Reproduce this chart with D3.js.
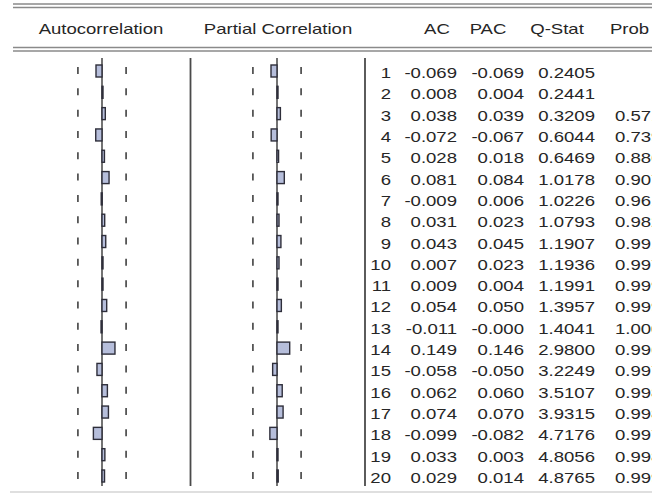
<!DOCTYPE html>
<html>
<head>
<meta charset="utf-8">
<script src="https://cdn.jsdelivr.net/npm/d3@7"></script>
<style>
  html, body { margin: 0; padding: 0; background: #fff; overflow: hidden; }
  text { font-family: "Liberation Sans", Arial, sans-serif; fill: #262626; }
</style>
</head>
<body>
<div id="chart"></div>
<script>
// 資料
var lags = d3.range(1, 21);
var acValues  = [-0.069, 0.008, 0.038, -0.072, 0.028, 0.081, -0.009, 0.031, 0.043, 0.007,
                 0.009, 0.054, -0.011, 0.149, -0.058, 0.062, 0.074, -0.099, 0.033, 0.029];
var pacValues = [-0.069, 0.004, 0.039, -0.067, 0.018, 0.084, 0.006, 0.023, 0.045, 0.023,
                 0.004, 0.050, -0.000, 0.146, -0.050, 0.060, 0.070, -0.082, 0.003, 0.014];
var acText  = ['-0.069','0.008','0.038','-0.072','0.028','0.081','-0.009','0.031','0.043','0.007',
               '0.009','0.054','-0.011','0.149','-0.058','0.062','0.074','-0.099','0.033','0.029'];
var pacText = ['-0.069','0.004','0.039','-0.067','0.018','0.084','0.006','0.023','0.045','0.023',
               '0.004','0.050','-0.000','0.146','-0.050','0.060','0.070','-0.082','0.003','0.014'];
var qStat = ['0.2405','0.2441','0.3209','0.6044','0.6469','1.0178','1.0226','1.0793','1.1907','1.1936',
             '1.1991','1.3957','1.4041','2.9800','3.2249','3.5107','3.9315','4.7176','4.8056','4.8765'];
var prob  = ['','','0.571','0.739','0.886','0.907','0.961','0.982','0.991','0.997',
             '0.999','0.999','1.000','0.996','0.997','0.998','0.998','0.997','0.998','0.999'];
var headers = ['Autocorrelation', 'Partial Correlation', 'AC', 'PAC', 'Q-Stat', 'Prob'];
var bound = 0.277; // 信賴區間 (虛線)

// 畫布
const width = 652, height = 494;
const sx = 1.28;      // 字體水平拉伸
const fontSize = 14.5;
var svg = d3.select('#chart').append('svg')
  .attr('width', width)
  .attr('height', height);

// 列的位置 (文字 baseline)
var rowY = d3.scaleLinear().domain([1, 20]).range([78, 483]);
const barH = 12;

// 兩個面板的 x scale
var acX  = d3.scaleLinear().domain([-1, 1]).range([102 - 87, 102 + 87]);
var pacX = d3.scaleLinear().domain([-1, 1]).range([277 - 87, 277 + 87]);

// 上面的雙線
[4, 7.5, 47.5, 51].forEach(function(y) {
  svg.append('line')
    .attr('x1', 13).attr('x2', width)
    .attr('y1', y).attr('y2', y)
    .style('stroke', '#8a8a8a')
    .style('stroke-width', 1.6);
});
// 底線
svg.append('line')
  .attr('x1', 10).attr('x2', width)
  .attr('y1', 492).attr('y2', 492)
  .style('stroke', '#d4d4d4')
  .style('stroke-width', 1.5);

// 標題
function stretched(sel, x, y, anchor, txt) {
  sel.append('text')
    .attr('transform', `translate(${x},${y}) scale(${sx},1)`)
    .style('font-size', fontSize + 'px')
    .style('text-anchor', anchor)
    .text(txt);
}
var headerPos = [[101, 'middle'], [278, 'middle'], [437, 'middle'], [488, 'middle'], [557, 'middle'], [610, 'start']];
headers.forEach(function(h, i) {
  stretched(svg, headerPos[i][0], 34, headerPos[i][1], h);
});

// 分隔線
[190.5, 365].forEach(function(x) {
  svg.append('line')
    .attr('x1', x).attr('x2', x)
    .attr('y1', 58).attr('y2', 486)
    .style('stroke', '#4a4a4a')
    .style('stroke-width', 1.8);
});

// 畫一個相關圖面板
function drawPanel(x, values) {
  var g = svg.append('g');
  // 虛線
  [-bound, bound].forEach(function(b) {
    g.selectAll(null)
      .data(lags)
      .enter()
      .append('line')
      .attr('x1', x(b)).attr('x2', x(b))
      .attr('y1', d => rowY(d) - 11)
      .attr('y2', d => rowY(d) - 4)
      .style('stroke', '#555')
      .style('stroke-width', 1.8);
  });
  // 中心線
  g.append('line')
    .attr('x1', x(0)).attr('x2', x(0))
    .attr('y1', 58).attr('y2', 486)
    .style('stroke', '#444')
    .style('stroke-width', 1.5);
  // bar
  g.selectAll('rect.bar')
    .data(values)
    .enter()
    .append('rect')
    .attr('class', 'bar')
    .attr('x', d => Math.min(x(0), x(d)))
    .attr('width', d => Math.max(Math.abs(x(d) - x(0)), 1))
    .attr('y', (d, i) => rowY(i + 1) - 7 - barH / 2)
    .attr('height', barH)
    .style('fill', '#b6bedb')
    .style('stroke', '#2e2e3a')
    .style('stroke-width', 1.4);
}
drawPanel(acX, acValues);
drawPanel(pacX, pacValues);

// 表格文字
var cols = [
  [391, 'end', lags.map(String)],
  [457, 'end', acText],
  [524, 'end', pacText],
  [595, 'end', qStat],
  [615, 'start', prob]
];
cols.forEach(function(c) {
  c[2].forEach(function(t, i) {
    if (t !== '') stretched(svg, c[0], rowY(i + 1), c[1], t);
  });
});
</script>
</body>
</html>
